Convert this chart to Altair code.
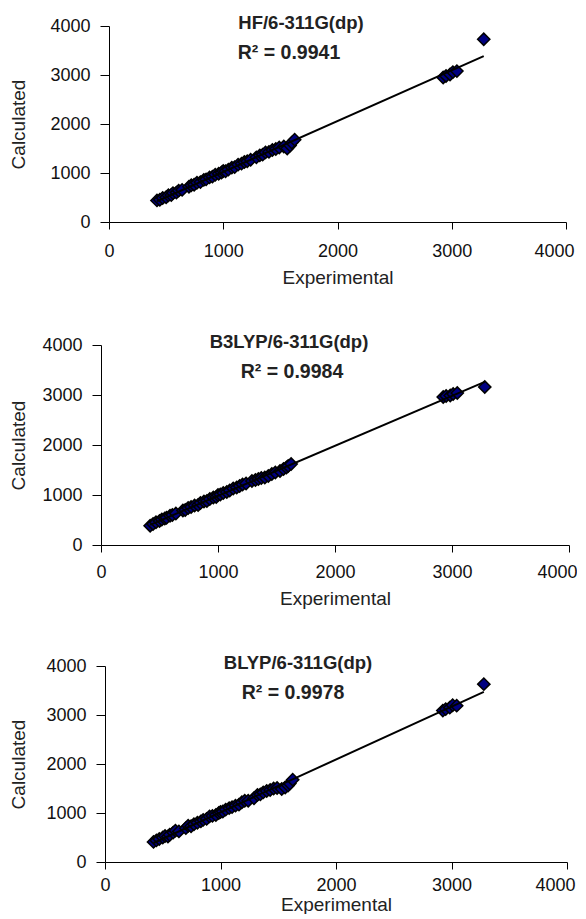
import altair as alt
import pandas as pd

# Experimental wavenumbers (shared x values)
experimental = [420, 445, 470, 500, 520, 545, 560, 590, 610, 640,
                700, 720, 745, 770, 800, 830, 850, 880, 905, 930,
                960, 985, 1000, 1020, 1045, 1075, 1100, 1130, 1160, 1185,
                1210, 1240, 1290, 1320, 1345, 1370, 1400, 1430, 1460, 1490,
                1530, 1560, 1585, 1600, 1625,
                2925, 2950, 2985, 3010, 3045, 3280]

hf_calc = [440, 455, 490, 505, 545, 550, 590, 600, 640, 655,
           720, 750, 760, 800, 815, 860, 870, 910, 925, 965,
           985, 1010, 1040, 1035, 1070, 1110, 1120, 1170, 1190, 1225,
           1240, 1270, 1320, 1360, 1375, 1420, 1430, 1470, 1490, 1520,
           1540, 1500, 1560, 1620, 1680,
           2950, 2980, 3010, 3060, 3080, 3730]

b3lyp_calc = [385, 420, 455, 480, 510, 530, 545, 585, 600, 630,
              690, 700, 740, 760, 790, 800, 840, 870, 880, 920,
              950, 960, 1000, 1010, 1040, 1060, 1090, 1130, 1150, 1180,
              1210, 1230, 1280, 1300, 1320, 1340, 1350, 1380, 1420, 1450,
              1480, 1520, 1550, 1580, 1620,
              2960, 2980, 2990, 3020, 3040, 3160]

blyp_calc = [410, 440, 470, 500, 530, 520, 555, 600, 640, 625,
             690, 740, 730, 770, 800, 830, 860, 880, 930, 940,
             960, 1000, 1020, 1030, 1070, 1100, 1120, 1150, 1170, 1220,
             1250, 1250, 1300, 1370, 1380, 1420, 1450, 1470, 1500, 1510,
             1490, 1520, 1560, 1600, 1680,
             3090, 3120, 3150, 3200, 3190, 3630]

methods = ["HF/6-311G(dp)", "B3LYP/6-311G(dp)", "BLYP/6-311G(dp)"]
r2_labels = ["R\u00b2 = 0.9941", "R\u00b2 = 0.9984", "R\u00b2 = 0.9978"]
calcs = [hf_calc, b3lyp_calc, blyp_calc]
tick_values = [0, 1000, 2000, 3000, 4000]

FONT = "Liberation Sans"

# per-panel layout
layouts = [
    dict(w=457, h=196, tx=192, rx=180, ytp=21, xlp=13, xtp=8),
    dict(w=468, h=200, tx=188, rx=191, ytp=13, xlp=11, xtp=8),
    dict(w=462, h=196, tx=193, rx=188, ytp=17, xlp=7, xtp=1),
]


def panel(calc, method, r2, w, h, tx, rx, ytp, xlp, xtp):
    df = pd.DataFrame({"Experimental": experimental, "Calculated": calc})
    xenc = alt.X(
        "Experimental:Q",
        scale=alt.Scale(domain=[0, 4000], nice=False, zero=True),
        axis=alt.Axis(
            values=tick_values, title="Experimental", grid=False, format="d",
            tickSize=7, labelPadding=xlp, titlePadding=xtp,
            labelAlign={"condition": {"test": "datum.value == 4000", "value": "right"}, "value": "center"},
            labelOffset={"condition": {"test": "datum.value == 4000", "value": 8}, "value": 0},
        ),
    )
    yenc = alt.Y(
        "Calculated:Q",
        scale=alt.Scale(domain=[0, 4000], nice=False, zero=True),
        axis=alt.Axis(
            values=tick_values, title="Calculated", grid=False, format="d",
            tickSize=9, labelPadding=10, titlePadding=ytp,
        ),
    )
    base = alt.Chart(df)
    line = base.transform_regression(
        "Experimental", "Calculated"
    ).mark_line(color="black", strokeWidth=2).encode(
        x=alt.X("Experimental:Q"), y=alt.Y("Calculated:Q")
    )
    points = base.mark_point(
        shape="diamond", filled=True, color="#000080", stroke="black",
        strokeWidth=1.5, size=150, opacity=1,
    ).encode(x=xenc, y=yenc)
    title = alt.Chart(pd.DataFrame({"t": [method]})).mark_text(
        font=FONT, fontSize=18.5, fontWeight="bold", color="#222222",
        align="center", baseline="alphabetic",
    ).encode(x=alt.value(tx), y=alt.value(3), text="t:N")
    r2t = alt.Chart(pd.DataFrame({"t": [r2]})).mark_text(
        font=FONT, fontSize=19.5, fontWeight="bold", color="#222222",
        align="center", baseline="alphabetic",
    ).encode(x=alt.value(rx), y=alt.value(33), text="t:N")
    return alt.layer(points, line, title, r2t).properties(width=w, height=h)


def spacer():
    # narrow empty cell so each row's left edge (not its plot origin) lines up
    return alt.Chart(pd.DataFrame({"v": [0]})).mark_point(opacity=0, size=0).properties(
        width=1, height=1
    )


rows = [
    alt.hconcat(spacer(), panel(calcs[i], methods[i], r2_labels[i], **layouts[i]), spacing=0)
    for i in range(3)
]

chart = alt.vconcat(*rows, spacing=46).properties(
    padding={"left": 0, "top": 6, "right": 0, "bottom": 0}
).configure_view(stroke=None).configure_axis(
    labelFont=FONT, labelFontSize=18, labelColor="#111111",
    titleFont=FONT, titleFontSize=19, titleFontWeight="normal", titleColor="#222222",
    domainColor="black", tickColor="black", domainWidth=1, tickWidth=1,
)

chart.save("out.html", embed_options={"renderer": "svg", "actions": False})
